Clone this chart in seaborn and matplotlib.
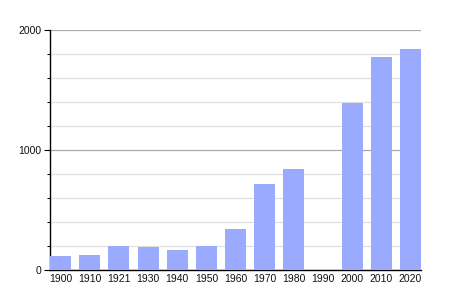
import numpy as np
import pandas as pd
import matplotlib
matplotlib.use("Agg")
import matplotlib.pyplot as plt
import seaborn as sns
from matplotlib.ticker import MultipleLocator

years = ["1900", "1910", "1921", "1930", "1940", "1950", "1960", "1970", "1980", "1990", "2000", "2010", "2020"]
population = [117, 125, 200, 192, 167, 200, 342, 717, 842, np.nan, 1394, 1775, 1842]
y_ticks = [0, 1000, 2000]

df = pd.DataFrame({"year": years, "pop": population})

sns.set_style("white")
plt.rcParams["font.family"] = ["Liberation Sans", "DejaVu Sans"]

fig = plt.figure(figsize=(4.5, 3), dpi=100)
ax = fig.add_axes([50 / 450, 30 / 300, 371 / 450, 240 / 300])

sns.barplot(data=df, x="year", y="pop", order=years, color="#99aaff",
            saturation=1, width=0.72, ax=ax, zorder=3, edgecolor="none", linewidth=0)

ax.set_ylim(0, 2000)
ax.set_xlim(-0.36, 12.36)
ax.set_yticks(y_ticks)
ax.yaxis.set_minor_locator(MultipleLocator(200))
ax.grid(False)
ax.grid(True, which="major", axis="y", color="#aaaaaa", linewidth=0.9, zorder=1)
ax.grid(True, which="minor", axis="y", color="#e0e0e0", linewidth=0.9, zorder=1)
ax.set_axisbelow(True)

for s in ["top", "right"]:
    ax.spines[s].set_visible(False)
for s in ["left", "bottom"]:
    ax.spines[s].set_visible(True)
    ax.spines[s].set_color("black")
    ax.spines[s].set_linewidth(1.0)

ax.tick_params(axis="y", which="major", length=4, width=0.8, color="black",
               labelsize=7.5, labelcolor="#111111", pad=2, left=True)
ax.tick_params(axis="y", which="minor", length=2, width=0.8, color="black", left=True)
ax.tick_params(axis="x", length=0, labelsize=7.5, labelcolor="#111111", pad=3)
ax.set_xlabel("")
ax.set_ylabel("")

fig.savefig("out.png", dpi=100)
